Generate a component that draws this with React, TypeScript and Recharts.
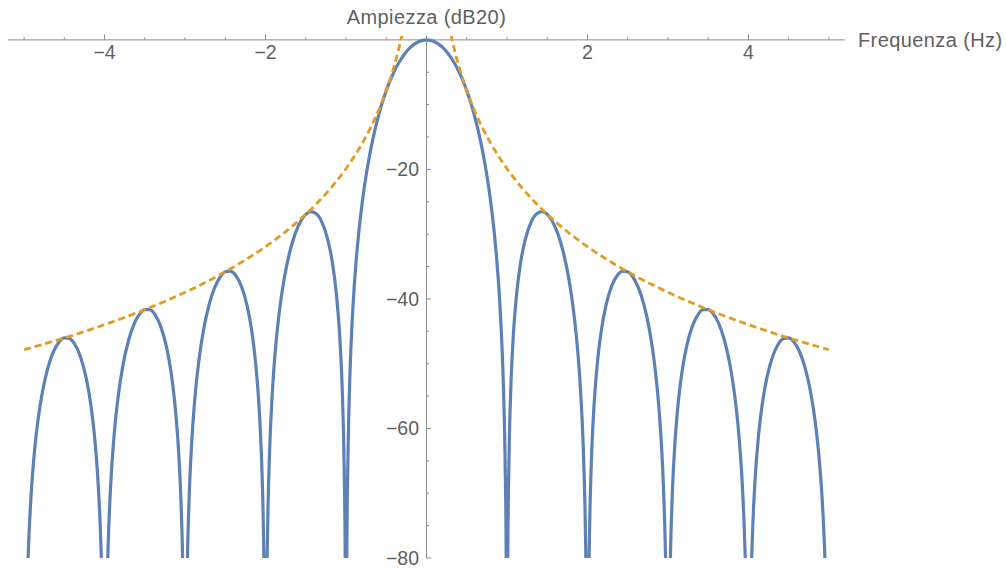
import { Line, LineChart, ReferenceLine, XAxis, YAxis } from 'recharts'

/* Spettro di ampiezza (dB20): lobo principale e lobi
   laterali, piu' l'inviluppo tratteggiato. Una riga per lobo. */
const freq = [
  -5, -4.99, -4.98, -4.97, -4.95, -4.92, -4.88, -4.83, -4.77, -4.7, -4.63, -4.56, -4.5, -4.44, -4.37, -4.3, -4.23, -4.17, -4.12, -4.08, -4.05, -4.03, -4.02, -4.01,
  -4, -3.99, -3.98, -3.97, -3.95, -3.92, -3.88, -3.83, -3.77, -3.7, -3.63, -3.56, -3.5, -3.44, -3.37, -3.3, -3.23, -3.17, -3.12, -3.08, -3.05, -3.03, -3.02, -3.01,
  -3, -2.99, -2.98, -2.97, -2.95, -2.92, -2.88, -2.83, -2.77, -2.7, -2.63, -2.56, -2.5, -2.44, -2.37, -2.3, -2.23, -2.17, -2.12, -2.08, -2.05, -2.03, -2.02, -2.01,
  -2, -1.99, -1.98, -1.97, -1.95, -1.92, -1.88, -1.83, -1.77, -1.7, -1.63, -1.56, -1.5, -1.44, -1.37, -1.3, -1.23, -1.17, -1.12, -1.08, -1.05, -1.03, -1.02, -1.01,
  -1, -0.99, -0.98, -0.97, -0.95, -0.93, -0.9, -0.85, -0.8, -0.75, -0.7, -0.65, -0.6, -0.55, -0.5, -0.45, -0.4, -0.35, -0.3, -0.25, -0.2, -0.15, -0.1, -0.05,
  0, 0.05, 0.1, 0.15, 0.2, 0.25, 0.3, 0.35, 0.4, 0.45, 0.5, 0.55, 0.6, 0.65, 0.7, 0.75, 0.8, 0.85, 0.9, 0.93, 0.95, 0.97, 0.98, 0.99,
  1, 1.01, 1.02, 1.03, 1.05, 1.08, 1.12, 1.17, 1.23, 1.3, 1.37, 1.44, 1.5, 1.56, 1.63, 1.7, 1.77, 1.83, 1.88, 1.92, 1.95, 1.97, 1.98, 1.99,
  2, 2.01, 2.02, 2.03, 2.05, 2.08, 2.12, 2.17, 2.23, 2.3, 2.37, 2.44, 2.5, 2.56, 2.63, 2.7, 2.77, 2.83, 2.88, 2.92, 2.95, 2.97, 2.98, 2.99,
  3, 3.01, 3.02, 3.03, 3.05, 3.08, 3.12, 3.17, 3.23, 3.3, 3.37, 3.44, 3.5, 3.56, 3.63, 3.7, 3.77, 3.83, 3.88, 3.92, 3.95, 3.97, 3.98, 3.99,
  4, 4.01, 4.02, 4.03, 4.05, 4.08, 4.12, 4.17, 4.23, 4.3, 4.37, 4.44, 4.5, 4.56, 4.63, 4.7, 4.77, 4.83, 4.88, 4.92, 4.95, 4.97, 4.98, 4.99,
  5,
]

// values below -80 fall outside the plot range and get clipped
const ampiezza = [
  -120, -107.93, -95.86, -88.8, -79.9, -71.74, -64.78, -58.97, -54.21, -50.45, -48, -46.56, -46.02, -46.09, -47, -48.91, -52.12, -56.42, -61.84, -68.49, -76.41, -85.15, -92.14, -104.13,
  -120, -104.04, -91.97, -84.89, -75.98, -67.79, -60.8, -54.94, -50.12, -46.3, -43.77, -42.25, -41.65, -41.66, -42.48, -44.31, -47.44, -51.66, -57.01, -63.6, -71.49, -80.2, -87.17, -99.15,
  -120, -99.03, -86.94, -79.85, -70.91, -62.68, -55.62, -49.69, -44.77, -40.82, -38.18, -36.53, -35.8, -35.69, -36.37, -38.04, -41, -45.07, -50.3, -56.78, -64.58, -73.24, -80.18, -92.13,
  -120, -91.96, -79.84, -72.72, -63.71, -55.39, -48.21, -42.11, -36.99, -32.79, -29.87, -27.92, -26.93, -26.53, -26.85, -28.13, -30.67, -34.34, -39.22, -45.4, -52.96, -61.46, -68.31, -80.18,
  -120, -79.83, -67.62, -60.41, -51.22, -45.08, -38.46, -30.78, -25.24, -20.91, -17.37, -14.41, -11.88, -9.72, -7.84, -6.23, -4.84, -3.65, -2.65, -1.82, -1.16, -0.65, -0.29, -0.07,
  0, -0.07, -0.29, -0.65, -1.16, -1.82, -2.65, -3.65, -4.84, -6.23, -7.84, -9.72, -11.88, -14.41, -17.37, -20.91, -25.24, -30.78, -38.46, -45.08, -51.22, -60.41, -67.62, -79.83,
  -120, -80.18, -68.31, -61.46, -52.96, -45.4, -39.22, -34.34, -30.67, -28.13, -26.85, -26.53, -26.93, -27.92, -29.87, -32.79, -36.99, -42.11, -48.21, -55.39, -63.71, -72.72, -79.84, -91.96,
  -120, -92.13, -80.18, -73.24, -64.58, -56.78, -50.3, -45.07, -41, -38.04, -36.37, -35.69, -35.8, -36.53, -38.18, -40.82, -44.77, -49.69, -55.62, -62.68, -70.91, -79.85, -86.94, -99.03,
  -120, -99.15, -87.17, -80.2, -71.49, -63.6, -57.01, -51.66, -47.44, -44.31, -42.48, -41.66, -41.65, -42.25, -43.77, -46.3, -50.12, -54.94, -60.8, -67.79, -75.98, -84.89, -91.97, -104.04,
  -120, -104.13, -92.14, -85.15, -76.41, -68.49, -61.84, -56.42, -52.12, -48.91, -47, -46.09, -46.02, -46.56, -48, -50.45, -54.21, -58.97, -64.78, -71.74, -79.9, -88.8, -95.86, -107.93,
  -120,
]

const freqEnv = [
  -5, -4.5, -4, -3.5, -3, -2.75, -2.5, -2.25, -2, -1.8, -1.6, -1.4, -1.2, -1, -0.9, -0.8, -0.7, -0.6, -0.5, -0.45, -0.4, -0.35, -0.32, -0.3, -0.28, -0.25,
  0,
  0.25, 0.28, 0.3, 0.32, 0.35, 0.4, 0.45, 0.5, 0.6, 0.7, 0.8, 0.9, 1, 1.2, 1.4, 1.6, 1.8, 2, 2.25, 2.5, 2.75, 3, 3.5, 4, 4.5, 5,
]

const inviluppo = [
  -47.84, -46.02, -43.97, -41.65, -38.97, -37.46, -35.8, -33.97, -31.93, -30.1, -28.05, -25.73, -23.05, -19.89, -18.06, -16.01, -13.69, -11.01, -7.84, -6.02, -3.97, -1.65, -0.09, 1.03, 2.23, 4.2,
  null,
  4.2, 2.23, 1.03, -0.09, -1.65, -3.97, -6.02, -7.84, -11.01, -13.69, -16.01, -18.06, -19.89, -23.05, -25.73, -28.05, -30.1, -31.93, -33.97, -35.8, -37.46, -38.97, -41.65, -43.97, -46.02, -47.84,
]

const xMajorTicks = [-4, -2, 2, 4]
const xMinorTicks = [-5, -4.5, -3.5, -3, -2.5, -1.5, -1, -0.5, 0.5, 1, 1.5, 2.5, 3, 3.5, 4.5, 5]
const yMajorTicks = [-20, -40, -60, -80]
const yMinorTicks = [-5, -10, -15, -25, -30, -35, -45, -50, -55, -65, -70, -75]

const BLUE = '#5e81b5'
const ORANGE = '#e19c24'
const AXIS = '#8c8c8c'
const INK = '#5f5f5f'
const FONT = '"Liberation Sans", Arial, sans-serif'

const fmt = (v: number) => (v < 0 ? `\u2212${Math.abs(v)}` : String(v))

const tickLabel = (value: string, position: 'bottom' | 'left', offset: number) => ({
  value,
  position,
  offset,
  fill: INK,
  fontSize: 19.5,
  fontFamily: FONT,
})

const titleLabel = (value: string, position: 'top' | 'right', offset: number) => ({
  value,
  position,
  offset,
  fill: INK,
  fontSize: 20,
  fontFamily: FONT,
  style: { letterSpacing: '0.4px' },
})

export default function App() {
  const curva = freq.map((f, i) => ({ f, db: ampiezza[i] }))
  const env = freqEnv.map((f, i) => ({ f, db: inviluppo[i] }))

  return (
    <div style={{ position: 'absolute', left: 0, top: 0, width: 1006, height: 568, background: '#fff' }}>
      <LineChart width={1006} height={568} margin={{ top: 36, right: 161, bottom: 10, left: 8 }}>
        <XAxis type="number" dataKey="f" domain={[-5.2, 5.2]} allowDataOverflow hide />
        <YAxis type="number" domain={[-80, 0.6]} allowDataOverflow hide />

        {/* assi passanti per l'origine */}
        <ReferenceLine
          y={0}
          stroke={AXIS}
          strokeWidth={1}
          ifOverflow="visible"
          label={titleLabel('Frequenza (Hz)', 'right', 13)}
        />
        <ReferenceLine
          x={0}
          stroke={AXIS}
          strokeWidth={1}
          ifOverflow="visible"
          label={titleLabel('Ampiezza (dB20)', 'top', 12)}
        />

        {xMinorTicks.map((t) => (
          <ReferenceLine
            key={`xm${t}`}
            segment={[{ x: t, y: 0 }, { x: t, y: 0.4 }]}
            stroke={AXIS}
            ifOverflow="visible"
          />
        ))}
        {xMajorTicks.map((t) => (
          <ReferenceLine
            key={`xM${t}`}
            segment={[{ x: t, y: 0 }, { x: t, y: 0.85 }]}
            stroke={AXIS}
            ifOverflow="visible"
            label={tickLabel(fmt(t), 'bottom', 5.5)}
          />
        ))}
        {yMinorTicks.map((t) => (
          <ReferenceLine
            key={`ym${t}`}
            segment={[{ x: 0, y: t }, { x: 0.032, y: t }]}
            stroke={AXIS}
            ifOverflow="visible"
          />
        ))}
        {yMajorTicks.map((t) => (
          <ReferenceLine
            key={`yM${t}`}
            segment={[{ x: 0, y: t }, { x: 0.055, y: t }]}
            stroke={AXIS}
            ifOverflow="visible"
            label={tickLabel(fmt(t), 'left', 7.5)}
          />
        ))}

        <Line
          data={curva}
          dataKey="db"
          type="monotone"
          stroke={BLUE}
          strokeWidth={3.2}
          dot={false}
          activeDot={false}
          isAnimationActive={false}
        />
        <Line
          data={env}
          dataKey="db"
          type="monotone"
          stroke={ORANGE}
          strokeWidth={2.8}
          strokeDasharray="7 4"
          dot={false}
          activeDot={false}
          isAnimationActive={false}
        />
      </LineChart>
    </div>
  )
}
